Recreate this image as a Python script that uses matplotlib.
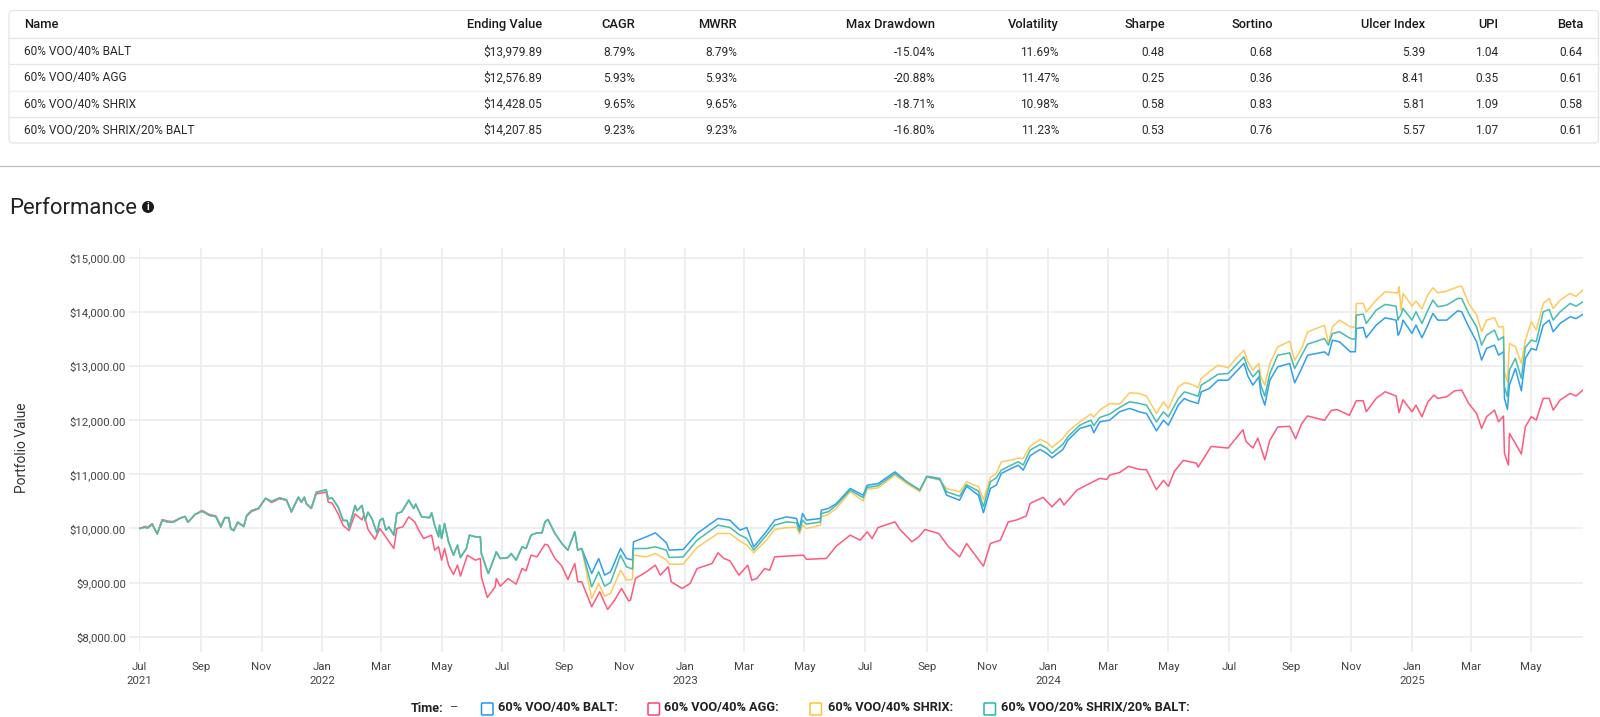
import matplotlib
matplotlib.use("Agg")
import matplotlib.pyplot as plt
import matplotlib.dates as mdates
from matplotlib.patches import FancyBboxPatch, Circle
import pandas as pd

plt.rcParams['font.family'] = ['Roboto', 'DejaVu Sans']

# ---------- table ----------
table_headers = ["Name", "Ending Value", "CAGR", "MWRR", "Max Drawdown", "Volatility",
                 "Sharpe", "Sortino", "Ulcer Index", "UPI", "Beta"]
table_rows = [
    ["60% VOO/40% BALT", "$13,979.89", "8.79%", "8.79%", "-15.04%", "11.69%", "0.48", "0.68", "5.39", "1.04", "0.64"],
    ["60% VOO/40% AGG", "$12,576.89", "5.93%", "5.93%", "-20.88%", "11.47%", "0.25", "0.36", "8.41", "0.35", "0.61"],
    ["60% VOO/40% SHRIX", "$14,428.05", "9.65%", "9.65%", "-18.71%", "10.98%", "0.58", "0.83", "5.81", "1.09", "0.58"],
    ["60% VOO/20% SHRIX/20% BALT", "$14,207.85", "9.23%", "9.23%", "-16.80%", "11.23%", "0.53", "0.76", "5.57", "1.07", "0.61"],
]
series_names = ["60% VOO/40% BALT", "60% VOO/40% AGG", "60% VOO/40% SHRIX", "60% VOO/20% SHRIX/20% BALT"]

# ---------- series: days since 2021-07-01 and portfolio value ----------
start_date = "2021-07-01"
shared_days = [0, 6, 8, 13, 18, 23, 29, 34, 41, 46, 49, 56, 63, 71, 77, 82, 86, 90, 92, 95, 99, 105, 108, 113, 120,
               127, 133, 141, 148, 153, 160, 163, 166, 168, 173, 178, 188, 190, 194, 200, 205, 209, 211, 217, 219,
               224, 227, 230, 234, 239, 242, 245, 248, 251, 256, 259, 264, 271, 276, 278, 284, 292, 294, 297, 301,
               302, 304, 307, 311, 316, 320, 323, 329, 332, 338, 343, 344, 351, 358, 359, 363, 371, 374, 379, 385,
               389, 394, 400, 405, 408, 411, 418, 425, 431, 438, 441, 445]
shared_values = [10000, 10025, 10005, 10075, 9900, 10150, 10120, 10115, 10190, 10220, 10115, 10260, 10320, 10240,
                 10220, 10025, 10200, 10200, 9995, 9960, 10115, 10035, 10240, 10330, 10375, 10560, 10500, 10565,
                 10530, 10315, 10580, 10490, 10580, 10460, 10375, 10670, 10715, 10550, 10565, 10395, 10148, 10148,
                 10012, 10425, 10330, 10425, 10148, 10300, 10180, 9915, 10154, 10185, 9970, 10030, 9877, 10277,
                 10308, 10524, 10370, 10450, 10215, 10200, 10290, 10062, 9846, 10062, 9815, 10092, 9754, 9507,
                 9692, 9464, 9630, 9877, 9846, 9846, 9538, 9168, 9507, 9569, 9446, 9464, 9538, 9415, 9661, 9630,
                 9877, 9920, 9920, 10123, 10166, 9908, 9723, 9600, 9938, 9600, 9630]

late_days = [455, 462, 468, 474, 484, 490, 496, 497, 510, 519, 530, 533, 547, 561, 582, 594, 604, 611, 618, 631, 639, 651,
             661, 664, 667, 671, 685, 686, 693, 701, 715, 728, 732, 743, 760, 772, 785, 792, 805, 812, 825, 832, 844,
             849, 856, 862, 867, 877, 884, 889, 896, 906, 913, 918, 929, 934, 946, 957, 960, 966, 976, 986, 996, 1006,
             1013, 1023, 1030, 1035, 1045, 1051, 1056, 1065, 1068, 1076, 1085, 1095, 1103, 1111, 1115, 1120, 1126,
             1128, 1132, 1137, 1145, 1157, 1162, 1169, 1175, 1192, 1196, 1200, 1207, 1218, 1223, 1224, 1231, 1234,
             1244, 1253, 1264, 1266, 1267, 1269, 1271, 1280, 1284, 1290, 1296, 1301, 1306, 1315, 1326, 1330, 1337,
             1345, 1350, 1355, 1363, 1367, 1372, 1373, 1376, 1378, 1384, 1390, 1394, 1400, 1405, 1412, 1418, 1422,
             1429, 1439, 1445, 1452]
balt_late = [9168, 9446, 9138, 9200, 9630, 9446, 9420, 9753, 9846, 9920, 9738, 9600, 9612, 9907, 10185, 10154, 9970, 10018,
             9660, 9950, 10154, 10215, 10185, 10000, 10277, 10154, 10185, 10339, 10370, 10460, 10740, 10615, 10800,
             10830, 11047, 10862, 10708, 10967, 10924, 10615, 10523, 10780, 10615, 10292, 10741, 10803, 11018, 11110,
             11170, 11080, 11345, 11462, 11385, 11308, 11462, 11634, 11850, 11911, 11770, 11972, 12004, 12158, 12220,
             12156, 12125, 11805, 12002, 11910, 12280, 12402, 12360, 12310, 12525, 12587, 12741, 12741, 12895, 13050,
             12815, 12650, 12803, 12495, 12280, 12741, 12988, 13050, 12692, 12957, 13203, 13265, 13203, 13480, 13452,
             13267, 13267, 13698, 13717, 13526, 13760, 13895, 13852, 13575, 13600, 13700, 13852, 13606, 13760, 13526,
             13760, 13975, 13852, 13852, 14025, 14006, 13729, 13452, 13113, 13328, 13390, 13205, 13267, 12405, 12201,
             12651, 12959, 12546, 13144, 13328, 13298, 13760, 13852, 13637, 13791, 13914, 13880, 13960]
mix_late = [8922, 9200, 8934, 9000, 9507, 9292, 9250, 9630, 9630, 9661, 9600, 9464, 9476, 9784, 10062, 10018, 9880, 9815,
            9600, 9880, 10062, 10123, 10105, 9950, 10154, 10080, 10120, 10277, 10310, 10430, 10710, 10570, 10760,
            10790, 11017, 10860, 10708, 10955, 10910, 10678, 10597, 10810, 10690, 10402, 10864, 10940, 11080, 11172,
            11235, 11172, 11450, 11554, 11480, 11388, 11560, 11696, 11911, 12004, 11900, 12053, 12115, 12238, 12343,
            12310, 12280, 11971, 12156, 12064, 12402, 12525, 12500, 12445, 12650, 12741, 12852, 12864, 13018, 13172,
            12957, 12803, 12926, 12650, 12445, 12864, 13203, 13246, 12957, 13203, 13407, 13511, 13388, 13604, 13637,
            13513, 13495, 13945, 13963, 13790, 14037, 14142, 14110, 13852, 13900, 13950, 14068, 13852, 14006, 13790,
            14037, 14222, 14099, 14130, 14252, 14252, 13975, 13729, 13390, 13575, 13667, 13483, 13544, 12620, 12435,
            12928, 13144, 12774, 13347, 13483, 13452, 14006, 14049, 13852, 14006, 14160, 14110, 14190]
shrix_late = [8706, 8984, 8750, 8800, 9230, 9045, 9060, 9507, 9476, 9538, 9420, 9340, 9340, 9650, 9908, 9908, 9770, 9692,
              9550, 9790, 9982, 10018, 10020, 9900, 10062, 10000, 10060, 10215, 10260, 10370, 10680, 10510, 10730,
              10750, 10986, 10830, 10680, 10955, 10893, 10740, 10678, 10862, 10770, 10538, 10945, 11020, 11234, 11265,
              11300, 11295, 11524, 11647, 11590, 11500, 11665, 11788, 11973, 12115, 12060, 12189, 12310, 12300, 12510,
              12495, 12446, 12125, 12341, 12218, 12618, 12692, 12680, 12605, 12772, 12895, 13018, 12970, 13142, 13296,
              13080, 12926, 13050, 12803, 12650, 13050, 13357, 13462, 13110, 13326, 13634, 13758, 13419, 13727, 13852,
              13729, 13717, 14160, 14160, 14006, 14222, 14376, 14357, 14357, 14468, 14037, 14344, 14111, 14203, 14061,
              14326, 14449, 14357, 14388, 14468, 14480, 14160, 13945, 13637, 13852, 13895, 13729, 13729, 12897, 12712,
              13421, 13360, 13051, 13483, 13821, 13667, 14160, 14252, 14068, 14222, 14345, 14290, 14410]

agg_days = [0, 6, 8, 13, 18, 23, 29, 34, 41, 46, 49, 56, 63, 71, 77, 82, 86, 90, 92, 95, 99, 105, 108, 113, 120, 127,
            133, 141, 148, 153, 160, 163, 166, 168, 173, 178, 188, 190, 194, 200, 205, 211, 217, 224, 226, 230, 237,
            242, 249, 256, 259, 265, 271, 277, 281, 286, 294, 297, 301, 304, 307, 311, 316, 320, 323, 330, 338, 343,
            344, 350, 358, 359, 363, 371, 379, 385, 389, 394, 400, 408, 411, 418, 425, 431, 438, 441, 445, 455, 463,
            471, 478, 485, 492, 494, 499, 510, 519, 524, 532, 535, 546, 554, 561, 576, 582, 588, 594, 603, 612, 616,
            621, 629, 634, 639, 651, 668, 671, 691, 701, 715, 725, 732, 737, 743, 760, 765, 777, 784, 790, 804, 814,
            825, 832, 842, 849, 856, 866, 874, 882, 892, 896, 909, 918, 926, 930, 943, 956, 966, 973, 976, 986, 995,
            1006, 1013, 1023, 1030, 1035, 1041, 1050, 1063, 1065, 1078, 1095, 1110, 1113, 1120, 1125, 1132, 1137,
            1145, 1157, 1163, 1169, 1175, 1192, 1199, 1205, 1217, 1224, 1231, 1234, 1244, 1253, 1264, 1267, 1271,
            1280, 1284, 1290, 1296, 1302, 1306, 1315, 1323, 1330, 1337, 1345, 1350, 1355, 1363, 1367, 1372, 1373,
            1377, 1378, 1384, 1390, 1394, 1400, 1405, 1412, 1418, 1422, 1429, 1439, 1445, 1452]
agg_values = [10000, 10040, 10020, 10090, 9905, 10165, 10135, 10130, 10190, 10225, 10120, 10255, 10335, 10255, 10235,
              10050, 10205, 10190, 10000, 9970, 10120, 10040, 10225, 10315, 10365, 10555, 10480, 10550, 10520, 10300,
              10570, 10480, 10570, 10450, 10365, 10640, 10670, 10487, 10470, 10270, 10055, 9963, 10270, 10160, 10270,
              9985, 9800, 10000, 9815, 9630, 10000, 10030, 10215, 10123, 9970, 9815, 9877, 9600, 9662, 9415, 9630,
              9322, 9150, 9322, 9119, 9507, 9415, 9446, 9107, 8725, 8922, 9076, 8934, 9076, 8971, 9261, 9218, 9507,
              9476, 9710, 9692, 9446, 9304, 9057, 9353, 9014, 9014, 8553, 8830, 8503, 8675, 8891, 8663, 8675, 9076,
              9200, 9322, 9138, 9292, 9014, 8891, 8984, 9260, 9352, 9550, 9446, 9402, 9138, 9322, 9045, 9076, 9260,
              9230, 9476, 9489, 9507, 9430, 9446, 9674, 9877, 9784, 9938, 9815, 10018, 10123, 9982, 9754, 9846, 9982,
              9908, 9661, 9476, 9723, 9476, 9304, 9723, 9784, 10123, 10156, 10230, 10464, 10575, 10400, 10556, 10433,
              10710, 10834, 10926, 10907, 10988, 11035, 11150, 11092, 11086, 10717, 10890, 10778, 11055, 11259, 11209,
              11135, 11517, 11487, 11825, 11610, 11487, 11671, 11270, 11630, 11877, 11889, 11661, 11938, 12080, 12000,
              12185, 12197, 12092, 12361, 12361, 12158, 12405, 12528, 12448, 12140, 12380, 12158, 12280, 12066, 12340,
              12466, 12405, 12435, 12546, 12558, 12312, 12127, 11850, 12066, 12189, 11973, 12078, 11388, 11172, 11758,
              11573, 11376, 11881, 12066, 12005, 12405, 12405, 12189, 12374, 12497, 12450, 12560]

x_major_dates = pd.date_range("2021-07-01", "2025-05-01", freq="2MS")
y_major = [8000, 9000, 10000, 11000, 12000, 13000, 14000, 15000]

BLUE, PINK, YELLOW, TEAL = "#2f9fee", "#ff5a7c", "#ffc95c", "#45bcb0"
BOX_COLORS = ["#2196f3", "#ff4069", "#ffc233", "#22b8ac"]

W, H = 1600, 717
fig = plt.figure(figsize=(W / 100, H / 100), dpi=100, facecolor="white")

# page overlay in pixel units
page = fig.add_axes([0, 0, 1, 1], zorder=0)
page.set_xlim(0, W)
page.set_ylim(H, 0)
page.axis("off")

page.add_patch(FancyBboxPatch((9, 10.5), 1589.5, 132.5, boxstyle="round,pad=0,rounding_size=4",
                              fc="white", ec="#e4e4e4", lw=0.9))
for yy, c in [(38.3, "#e6e6e6"), (64.3, "#e6e6e6"), (90.7, "#eeeeee"), (116.7, "#e6e6e6")]:
    page.plot([9, 1598.5], [yy, yy], color=c, lw=0.9, solid_capstyle="butt")
page.plot([0, W], [166, 166], color="#bdbdbd", lw=0.9)

col_right = [None, 542, 635, 737, 935, 1059, 1165, 1273, 1425, 1498, 1583]
row_y = [52, 78, 104.5, 130.5]
for j, head in enumerate(table_headers):
    if j == 0:
        page.text(24, 24.5, head, ha="left", va="center", fontsize=9.3, fontweight="medium", color="#1a1a1a")
    else:
        page.text(col_right[j], 24.5, head, ha="right", va="center", fontsize=9.3, fontweight="medium", color="#1a1a1a")
for yy, row in zip(row_y, table_rows):
    for j, cell in enumerate(row):
        if j == 0:
            page.text(24, yy, cell, ha="left", va="center", fontsize=8.55, color="#2a2a2a")
        else:
            page.text(col_right[j], yy, cell, ha="right", va="center", fontsize=8.55, color="#2a2a2a")

page.text(9, 208, "Performance", ha="left", va="center", fontsize=15.9, color="#222222")
page.add_patch(Circle((148, 207), 6, fc="#1a1a1a", ec="none"))
page.text(148, 207, "i", ha="center", va="center", fontsize=7.5, fontweight="bold", color="white")

page.text(22, 448, "Portfolio Value", rotation=90, ha="center", va="center", fontsize=9.9, color="#333333")

# legend
leg_y = 708
page.text(411, leg_y, "Time:", ha="left", va="center", fontsize=9.2, fontweight="bold", color="#222222")
page.text(454, leg_y, "–", ha="center", va="center", fontsize=9.2, color="#444444")
box_x = [481.5, 648, 810, 984]
text_x = [498, 664, 827.5, 1001]
for bx, tx, name, c in zip(box_x, text_x, series_names, BOX_COLORS):
    page.add_patch(FancyBboxPatch((bx, 703), 11.5, 12, boxstyle="round,pad=0,rounding_size=1",
                                  fc="white", ec=c, lw=1.1))
    page.text(tx, leg_y, name + ":", ha="left", va="center", fontsize=9.2, fontweight="bold", color="#222222")

# chart axes: pixel extents
L, R, T, B = 139.3, 1583, 248, 652
ax = fig.add_axes([L / W, 1 - B / H, (R - L) / W, (B - T) / H], zorder=1)
ax.patch.set_alpha(0)
base = pd.Timestamp(start_date)
to_dates = lambda days: [base + pd.Timedelta(days=int(d)) for d in days]

main_days = shared_days + late_days
for vals, days, col in [
    (shared_values + balt_late, main_days, BLUE),
    (agg_values, agg_days, PINK),
    (shared_values + shrix_late, main_days, YELLOW),
    (shared_values + mix_late, main_days, TEAL),
]:
    ax.plot(to_dates(days), vals, color=col, lw=1.1, solid_joinstyle="round", zorder=3)

ax.set_xlim(base, base + pd.Timedelta(days=1452))
ax.set_ylim(7717, 15185)
ax.set_yticks(y_major)
ax.set_yticklabels([f"${v:,.2f}" for v in y_major], fontsize=8.2, color="#444444")
ax.set_xticks([mdates.date2num(d) for d in x_major_dates])
labels = []
for d in x_major_dates:
    lab = d.strftime("%b")
    if d.month == 1 or d == x_major_dates[0]:
        lab += "\n" + str(d.year)
    labels.append(lab)
ax.set_xticklabels(labels, fontsize=8.2, color="#444444", linespacing=1.55, va="top")
ax.grid(True, color="#eeeeee", lw=1.4, zorder=1)
ax.set_axisbelow(True)
for s in ax.spines.values():
    s.set_visible(False)
ax.tick_params(axis="y", length=7, width=1.4, color="#eeeeee", pad=2.5)
ax.tick_params(axis="x", length=0, pad=7)

fig.savefig("out.png", dpi=100, facecolor="white")
